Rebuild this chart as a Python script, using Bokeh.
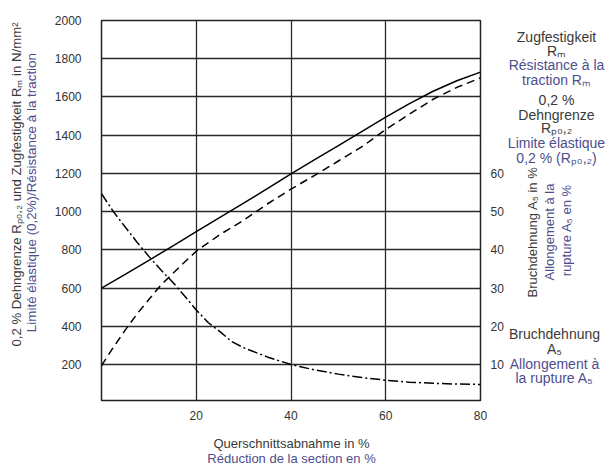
import math
from bokeh.plotting import figure
from bokeh.models import Range1d, LinearAxis, FixedTicker
from bokeh.layouts import row, column
from bokeh.core.properties import value
from bokeh.embed import file_html
from bokeh.resources import INLINE

# ---------------- data ----------------
reduction_rm = [0, 5, 10, 15, 20, 25, 30, 35, 40, 45, 50, 55, 60, 65, 70, 75, 80]
rm_values = [600, 672, 745, 820, 895, 970, 1045, 1120, 1198, 1272, 1345, 1420, 1494, 1565, 1630, 1685, 1730]

reduction_rp = [0, 2.5, 5, 7.5, 10, 12.5, 15, 17.5, 20, 25, 30, 35, 40, 45, 50, 55, 60, 65, 70, 75, 80]
rp_values = [195, 290, 380, 465, 540, 615, 675, 735, 793, 880, 955, 1040, 1118, 1190, 1265, 1340, 1430, 1510, 1588, 1650, 1700]

reduction_a5 = [0, 2.5, 5, 7.5, 10, 12.5, 15, 17.5, 20, 22.5, 25, 27.5, 30, 35, 40, 45, 50, 55, 60, 65, 70, 75, 80]
a5_values = [54.7, 50.0, 46.0, 42.0, 38.3, 34.8, 31.6, 28.0, 24.3, 21.0, 18.6, 16.0, 14.4, 12.0, 10.0, 8.6, 7.5, 6.6, 5.9, 5.4, 5.1, 4.9, 4.8]

x_ticks = [20, 40, 60, 80]
y_ticks = [200, 400, 600, 800, 1000, 1200, 1400, 1600, 1800, 2000]
pct_ticks = [10, 20, 30, 40, 50, 60]

left_labels = ["0,2 % Dehngrenze Rₚ₀,₂ und Zugfestigkeit Rₘ in N/mm²",
               "Limité élastique (0,2%)/Résistance à la traction"]
bottom_labels = ["Querschnittsabnahme in %", "Réduction de la section en %"]
right_axis_labels = ["Bruchdehnung A₅ in %", "Allongement à la", "rupture A₅ en %"]
right_block_labels = ["Zugfestigkeit", "Rₘ", "Résistance à la", "traction Rₘ",
                      "0,2 %", "Dehngrenze", "Rₚ₀,₂", "Limite élastique", "0,2 % (Rₚ₀,₂)",
                      "Bruchdehnung", "A₅", "Allongement à", "la rupture A₅"]

# ---------------- layout constants ----------------
FONT = "Liberation Sans"
GER = "#3a3a3a"
FRA = "#4e4e8e"

TOTAL_W = 612
ROW_H = 424
BOT_H = 42
LEFT_W = 48
MAIN_W = 458
RIGHT_W = TOTAL_W - LEFT_W - MAIN_W

X0, X1 = 0, 80
Y0, Y1 = 12, 2000

# ---------------- main chart ----------------
p = figure(width=MAIN_W, height=ROW_H, output_backend="svg", toolbar_location=None,
           x_range=Range1d(X0, X1), y_range=Range1d(Y0, Y1),
           min_border_left=53, min_border_right=24,
           min_border_top=20, min_border_bottom=24)
p.background_fill_color = "white"
p.border_fill_color = "white"
p.outline_line_color = "#222222"
p.outline_line_width = 1.5

# elongation axis: 1 % corresponds to 20 N/mm² on the left axis
p.extra_y_ranges = {"pct": Range1d(Y0 / 20.0, Y1 / 20.0)}

for ax in [p.xaxis[0], p.yaxis[0]]:
    ax.axis_line_color = None
    ax.major_tick_line_color = None
    ax.minor_tick_line_color = None
    ax.major_label_text_font = FONT
    ax.major_label_text_font_size = "12px"
    ax.major_label_text_color = "#333333"

p.xaxis.ticker = FixedTicker(ticks=x_ticks)
p.xaxis.major_label_standoff = 4
p.yaxis.ticker = FixedTicker(ticks=y_ticks)
p.yaxis.major_label_standoff = 14

rax = LinearAxis(y_range_name="pct", ticker=FixedTicker(ticks=pct_ticks))
rax.axis_line_color = None
rax.major_tick_line_color = None
rax.minor_tick_line_color = None
rax.major_label_text_font = FONT
rax.major_label_text_font_size = "12px"
rax.major_label_text_color = "#333333"
rax.major_label_standoff = 4
p.add_layout(rax, "right")

p.xgrid.ticker = FixedTicker(ticks=[20, 40, 60])
p.ygrid.ticker = FixedTicker(ticks=y_ticks[:-1])
for g in [p.xgrid[0], p.ygrid[0]]:
    g.grid_line_color = "#2a2a2a"
    g.grid_line_width = 1.3
    g.grid_line_alpha = 1.0

p.line(reduction_rm, rm_values, line_color="black", line_width=1.5)
p.line(reduction_rp, rp_values, line_color="black", line_width=1.5, line_dash="8 5")
p.line(reduction_a5, a5_values, y_range_name="pct", line_color="black",
       line_width=1.5, line_dash="10 3 2 3")


# ---------------- text panels ----------------
def text_panel(w, h):
    f = figure(width=w, height=h, output_backend="svg", toolbar_location=None,
               x_range=Range1d(0, w), y_range=Range1d(0, h),
               x_axis_type=None, y_axis_type=None,
               min_border_left=0, min_border_right=0, min_border_top=0, min_border_bottom=0)
    f.outline_line_color = None
    f.background_fill_color = "white"
    f.border_fill_color = "white"
    f.xgrid.visible = False
    f.ygrid.visible = False
    return f


def put(f, h, txt, x, y, color, size="13px", angle=0.0):
    f.text(x=[x], y=[h - y], text=[txt], text_font=value(FONT), text_font_size=size,
           text_color=color, text_align="center", text_baseline="middle", angle=angle)


# left panel (image x 0..48)
lp = text_panel(LEFT_W, ROW_H)
put(lp, ROW_H, left_labels[0], 16, 183, GER, "13.2px", math.pi / 2)
put(lp, ROW_H, left_labels[1], 31, 192, FRA, "13.4px", math.pi / 2)

# right panel
RX = LEFT_W + MAIN_W
rp = text_panel(RIGHT_W, ROW_H)
put(rp, ROW_H, right_axis_labels[0], 532 - RX, 236, GER, "13px", math.pi / 2)
put(rp, ROW_H, right_axis_labels[1], 549 - RX, 236, FRA, "13px", math.pi / 2)
put(rp, ROW_H, right_axis_labels[2], 566 - RX, 234, FRA, "13px", math.pi / 2)

block_y = [18, 34, 50, 66, 89, 105, 120, 137, 153, 350, 366, 383, 399]
block_c = [GER, GER, FRA, FRA, GER, GER, GER, FRA, FRA, GER, GER, FRA, FRA]
for txt, yy, col in zip(right_block_labels, block_y, block_c):
    cx = 556 if yy < 300 else 554
    put(rp, ROW_H, txt, cx - RX, yy, col, "14px")

# bottom panel (image y 424..466)
bp = text_panel(TOTAL_W, BOT_H)
put(bp, BOT_H, bottom_labels[0], 291, 443 - ROW_H, GER)
put(bp, BOT_H, bottom_labels[1], 291, 458 - ROW_H, FRA)

layout = column(row(lp, p, rp, spacing=0), bp, spacing=0)

open("out.html", "w").write(file_html(layout, INLINE))
